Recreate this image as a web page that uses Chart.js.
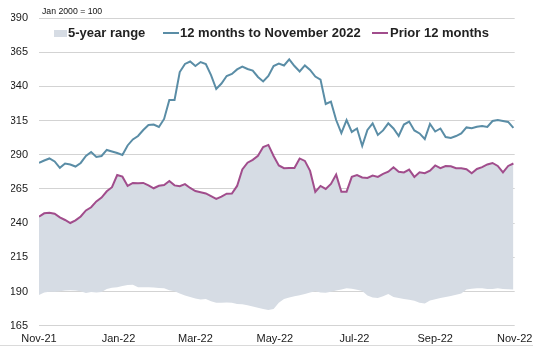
<!DOCTYPE html>
<html>
<head>
<meta charset="utf-8">
<script src="https://cdn.jsdelivr.net/npm/chart.js@4"></script>
<style>
    body { margin: 0; background: #fff; }
    #wrap { position: relative; width: 533px; height: 348px; font-family: "Liberation Sans", Arial, sans-serif; }
    #note { position: absolute; left: 42px; top: 6px; font-size: 8.7px; color: #111; }
    .leg { position: absolute; top: 25px; font-size: 13px; font-weight: bold; color: #222; line-height: 16px; }
    .box { position: absolute; top: 30px; width: 13px; height: 7px; background: #d6dce4; }
    .mark { position: absolute; top: 32px; height: 2px; width: 16px; }
    #frame { position: absolute; left: 0; top: 345px; width: 533px; height: 1px; background: #dadada; }
</style>
</head>
<body>
<div id="wrap">
    <canvas id="chartIndex" width="533" height="348"></canvas>
    <div id="note">Jan 2000 = 100</div>
    <div class="box" style="left:54px"></div>
    <div class="leg" style="left:68px">5-year range</div>
    <div class="mark" style="left:163px;background:#5a8da6"></div>
    <div class="leg" style="left:180px">12 months to November 2022</div>
    <div class="mark" style="left:372px;background:#a14d8c"></div>
    <div class="leg" style="left:390px">Prior 12 months</div>
    <div id="frame"></div>
</div>
<script>
// one value every 4 days, starting 1 Nov 2021
const step = 4

const tickDays = [0, 61, 120, 181, 242, 304, 365]
const tickLabels = ['Nov-21', 'Jan-22', 'Mar-22', 'May-22', 'Jul-22', 'Sep-22', 'Nov-22']

const latest = [
    284.0, 285.8, 287.3, 285.1, 280.4, 283.6, 282.9, 281.4, 284.0, 289.1,
    292.0, 288.4, 289.1, 293.5, 292.4, 291.3, 289.9, 296.8, 301.2, 303.7,
    308.1, 311.8, 312.1, 310.3, 316.2, 330.1, 330.1, 350.5, 356.4, 358.2,
    354.9, 357.8, 356.4, 348.3, 338.1, 342.1, 347.6, 349.1, 352.4, 354.5,
    352.7, 351.6, 346.9, 343.6, 347.6, 354.9, 356.7, 355.3, 359.8, 354.9,
    350.9, 355.3, 352.0, 347.2, 345.0, 327.1, 328.8, 315.4, 305.9, 315.4,
    306.7, 309.2, 296.4, 308.1, 312.9, 304.5, 307.8, 313.0, 309.2, 303.7,
    312.1, 314.3, 307.8, 305.6, 301.5, 312.5, 307.0, 309.2, 303.0, 302.3,
    303.7, 305.6, 310.0, 309.4, 310.5, 311.1, 310.3, 314.7, 315.4, 314.7,
    314.0, 309.6
]

const prior = [
    244.8, 247.2, 247.6, 246.9, 244.2, 242.3, 240.1, 242.0, 244.9, 249.3,
    251.6, 255.9, 258.7, 263.3, 266.3, 275.2, 274.0, 267.2, 269.4, 269.2,
    269.4, 267.6, 265.5, 267.3, 267.9, 270.8, 267.6, 267.0, 268.5, 265.7,
    263.5, 262.6, 261.7, 259.7, 257.7, 259.4, 261.5, 261.7, 267.2, 279.3,
    284.2, 286.3, 289.3, 295.7, 297.2, 289.1, 282.2, 280.2, 280.3, 280.3,
    287.3, 285.5, 278.2, 262.8, 267.2, 265.0, 268.7, 275.5, 263.0, 263.0,
    273.8, 275.1, 273.4, 273.0, 274.8, 273.8, 276.0, 277.6, 280.9, 277.6,
    277.1, 279.1, 273.8, 277.2, 276.5, 278.4, 282.2, 280.2, 281.8, 281.6,
    280.1, 280.1, 279.4, 276.5, 279.6, 280.9, 282.9, 284.0, 281.8, 277.1,
    281.8, 283.6
]

// bottom of the 5-year range (the top follows the prior 12 months)
const rangeLow = [
    187.5, 189.3, 189.9, 189.9, 190.2, 190.8, 191.0, 190.7, 190.1, 188.9,
    189.7, 189.3, 189.7, 191.9, 192.7, 193.2, 194.0, 194.8, 194.9, 193.1,
    193.1, 193.1, 192.9, 192.5, 192.3, 190.9, 190.1, 188.5, 187.1, 186.0,
    184.9, 184.2, 184.6, 182.8, 181.7, 181.7, 182.0, 181.7, 180.9, 180.6,
    179.9, 179.1, 178.2, 177.3, 176.5, 177.3, 181.7, 184.6, 185.7, 186.6,
    187.3, 188.2, 189.3, 190.1, 189.3, 189.1, 189.9, 190.8, 191.5, 192.3,
    192.1, 191.2, 190.4, 187.1, 185.7, 185.3, 186.6, 188.2, 186.0, 185.3,
    184.6, 184.0, 183.3, 181.7, 181.3, 183.5, 184.4, 185.2, 185.9, 186.8,
    187.7, 188.6, 191.5, 192.0, 192.3, 192.3, 191.9, 191.9, 192.3, 191.9,
    191.7, 191.5
]
const rangeHigh = prior

function toPoints(values) {
    return values.map((v, i) => ({ x: i * step, y: v }))
}

new Chart(document.getElementById('chartIndex'), {
    type: 'line',
    data: {
        datasets: [{
            label: 'low',
            data: toPoints(rangeLow),
            borderWidth: 0,
            pointRadius: 0,
            fill: false
        }, {
            label: '5-year range',
            data: toPoints(rangeHigh),
            borderWidth: 0,
            pointRadius: 0,
            backgroundColor: '#d6dce4',
            fill: '-1'
        }, {
            label: '12 months to November 2022',
            data: toPoints(latest),
            borderColor: '#5a8da6',
            borderWidth: 2,
            pointRadius: 0,
            tension: 0,
            fill: false
        }, {
            label: 'Prior 12 months',
            data: toPoints(prior),
            borderColor: '#a14d8c',
            borderWidth: 2,
            pointRadius: 0,
            tension: 0,
            fill: false
        }]
    },
    options: {
        responsive: false,
        animation: false,
        devicePixelRatio: 1,
        layout: {
            padding: { left: 11, right: 18.3, top: 18, bottom: 2.3 }
        },
        plugins: {
            legend: { display: false },
            tooltip: { enabled: false },
            filler: { drawTime: 'beforeDatasetsDraw' }
        },
        scales: {
            x: {
                type: 'linear',
                min: 0,
                max: 365,
                grid: { display: false },
                border: { display: false },
                afterBuildTicks: function(axis) {
                    axis.ticks = tickDays.map(d => ({ value: d }))
                },
                afterFit: function(scale) {
                    scale.height = 20
                },
                ticks: {
                    autoSkip: false,
                    maxRotation: 0,
                    padding: -1,
                    color: '#1a1a1a',
                    font: { family: '"Liberation Sans", Arial, sans-serif', size: 11 },
                    callback: function(value) {
                        return tickLabels[tickDays.indexOf(value)]
                    }
                }
            },
            y: {
                min: 165,
                max: 390,
                grid: { color: '#d3d3d3', drawTicks: false },
                border: { display: false },
                afterFit: function(scale) {
                    scale.width = 28
                },
                ticks: {
                    stepSize: 25,
                    padding: 11,
                    color: '#1a1a1a',
                    font: { family: '"Liberation Sans", Arial, sans-serif', size: 11 }
                }
            }
        }
    }
})
</script>
</body>
</html>
